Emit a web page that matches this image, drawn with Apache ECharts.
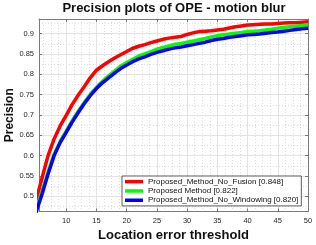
<!DOCTYPE html>
<html><head><meta charset="utf-8">
<script src="https://cdn.jsdelivr.net/npm/echarts@6/dist/echarts.min.js"></script>
<style>html,body{margin:0;padding:0;background:#fff}#c{width:316px;height:245px}</style>
</head><body><div id="c"></div>
<script>
const thresholds = [5,6,7,8,9,10,11,12,13,14,15,16,17,18,19,20,21,22,23,24,25,26,27,28,29,30,31,32,33,34,35,36,37,38,39,40,41,42,43,44,45,46,47,48,49,50];
const noFusion = [0.488,0.545,0.600,0.641,0.673,0.699,0.726,0.749,0.770,0.792,0.810,0.821,0.831,0.840,0.848,0.856,0.864,0.869,0.873,0.878,0.882,0.886,0.889,0.891,0.893,0.898,0.902,0.905,0.906,0.907,0.909,0.911,0.914,0.917,0.919,0.921,0.922,0.923,0.924,0.924,0.925,0.926,0.927,0.927,0.928,0.929];
const proposed = [0.468,0.512,0.560,0.604,0.635,0.660,0.686,0.709,0.731,0.751,0.768,0.783,0.796,0.808,0.820,0.829,0.837,0.845,0.850,0.856,0.862,0.866,0.870,0.874,0.876,0.879,0.882,0.885,0.888,0.892,0.895,0.897,0.899,0.901,0.903,0.905,0.906,0.907,0.909,0.911,0.913,0.915,0.917,0.918,0.920,0.921];
const noWindowing = [0.460,0.505,0.555,0.600,0.632,0.657,0.683,0.706,0.728,0.748,0.765,0.779,0.791,0.803,0.814,0.823,0.831,0.838,0.843,0.849,0.854,0.858,0.862,0.865,0.867,0.870,0.873,0.876,0.879,0.883,0.886,0.888,0.891,0.893,0.895,0.897,0.898,0.899,0.901,0.903,0.904,0.906,0.908,0.910,0.912,0.913];
const seriesNames = ['Proposed_Method_No_Fusion [0.848]','Proposed Method [0.822]','Proposed_Method_No_Windowing [0.820]'];
const seriesColors = ['#ff0000','#00ff00','#0000ff'];
const xTicks = [10,15,20,25,30,35,40,45,50];
const yTicks = [0.5,0.55,0.6,0.65,0.7,0.75,0.8,0.85,0.9];
const xMinor = [6.25,7.5,8.75,11.25,12.5,13.75,16.25,17.5,18.75,21.25,22.5,23.75,26.25,27.5,28.75,31.25,32.5,33.75,36.25,37.5,38.75,41.25,42.5,43.75,46.25,47.5,48.75];
const yMinor = [0.475,0.525,0.575,0.625,0.675,0.725,0.775,0.825,0.875,0.925];
const X_MIN = 5.5, X_MAX = 50, Y_MIN = 0.4626, Y_MAX = 0.936;

const FONT = "'Liberation Sans', Arial, Helvetica, sans-serif";
const axisCol = '#7a7a7a';
const chart = echarts.init(document.getElementById('c'), null, {renderer: 'canvas'});
const pairs = arr => thresholds.map((t, i) => [t, arr[i]]);
const allData = [noFusion, proposed, noWindowing];

function mainX(pos, show) {
  return {
    type: 'value', position: pos, min: X_MIN, max: X_MAX,
    axisLine: {show: true, onZero: false, lineStyle: {color: axisCol, width: 1}},
    axisTick: {show: true, inside: true, length: 3, customValues: xTicks, lineStyle: {color: axisCol}},
    axisLabel: {show: show, customValues: xTicks, fontSize: 7.5, color: '#262626', fontFamily: FONT, margin: 5},
    splitLine: {show: show, lineStyle: {color: '#e3e3e3', width: 1}}
  };
}
function mainY(pos, show) {
  return {
    type: 'value', position: pos, min: Y_MIN, max: Y_MAX,
    axisLine: {show: true, onZero: false, lineStyle: {color: axisCol, width: 1}},
    axisTick: {show: true, inside: true, length: 3, customValues: yTicks, lineStyle: {color: axisCol}},
    axisLabel: {show: show, customValues: yTicks, fontSize: 7.5, color: '#262626', fontFamily: FONT, margin: 5},
    splitLine: {show: show, lineStyle: {color: '#e3e3e3', width: 1}}
  };
}
const xAxes = [mainX('bottom', true), mainX('top', false), {
  type: 'value', position: 'bottom', min: X_MIN, max: X_MAX,
  axisLine: {show: false}, axisLabel: {show: false},
  axisTick: {show: false, customValues: xMinor},
  splitLine: {show: true, lineStyle: {color: '#dcdcdc', width: 1, type: [1, 2]}}
}];
xAxes[0].name = 'Location error threshold';
xAxes[0].nameLocation = 'middle';
xAxes[0].nameGap = 17;
xAxes[0].nameMoveOverlap = false;
xAxes[0].nameTextStyle = {fontSize: 13, fontWeight: 'bold', color: '#111', fontFamily: FONT};
const yAxes = [mainY('left', true), mainY('right', false), {
  type: 'value', position: 'left', min: Y_MIN, max: Y_MAX,
  axisLine: {show: false}, axisLabel: {show: false},
  axisTick: {show: false, customValues: yMinor},
  splitLine: {show: true, lineStyle: {color: '#dcdcdc', width: 1, type: [1, 2]}}
}];
yAxes[0].name = 'Precision';
yAxes[0].nameLocation = 'middle';
yAxes[0].nameGap = 23;
yAxes[0].nameRotate = 90;
yAxes[0].nameMoveOverlap = false;
yAxes[0].nameTextStyle = {fontSize: 12, fontWeight: 'bold', color: '#111', fontFamily: FONT};

chart.setOption({
  animation: false,
  backgroundColor: '#fff',
  title: {text: 'Precision plots of OPE - motion blur', left: 174, top: 2, padding: 0, textAlign: 'center',
    textStyle: {fontSize: 13, fontWeight: 'bold', color: '#111', fontFamily: FONT}},
  grid: {left: 39, right: 8, top: 19, bottom: 33.5, containLabel: false, outerBoundsMode: 'none'},
  xAxis: xAxes,
  yAxis: yAxes,
  legend: {
    orient: 'vertical', left: 122, top: 176, padding: [1, 3, 1, 3], itemGap: 0,
    itemWidth: 18, itemHeight: 3.5, itemTextGap: 2, icon: 'rect',
    backgroundColor: '#fff', borderColor: '#333', borderWidth: 0.8, borderRadius: 0,
    textStyle: {fontSize: 8, color: '#111', fontFamily: FONT, lineHeight: 9.3},
    data: seriesNames
  },
  series: seriesNames.map((n, i) => ({
    name: n, type: 'line', data: pairs(allData[i]), showSymbol: false, symbol: 'none',
    clip: true, xAxisIndex: 0, yAxisIndex: 0,
    itemStyle: {color: seriesColors[i]},
    lineStyle: {color: seriesColors[i], width: 3.5}
  }))
});
</script></body></html>
